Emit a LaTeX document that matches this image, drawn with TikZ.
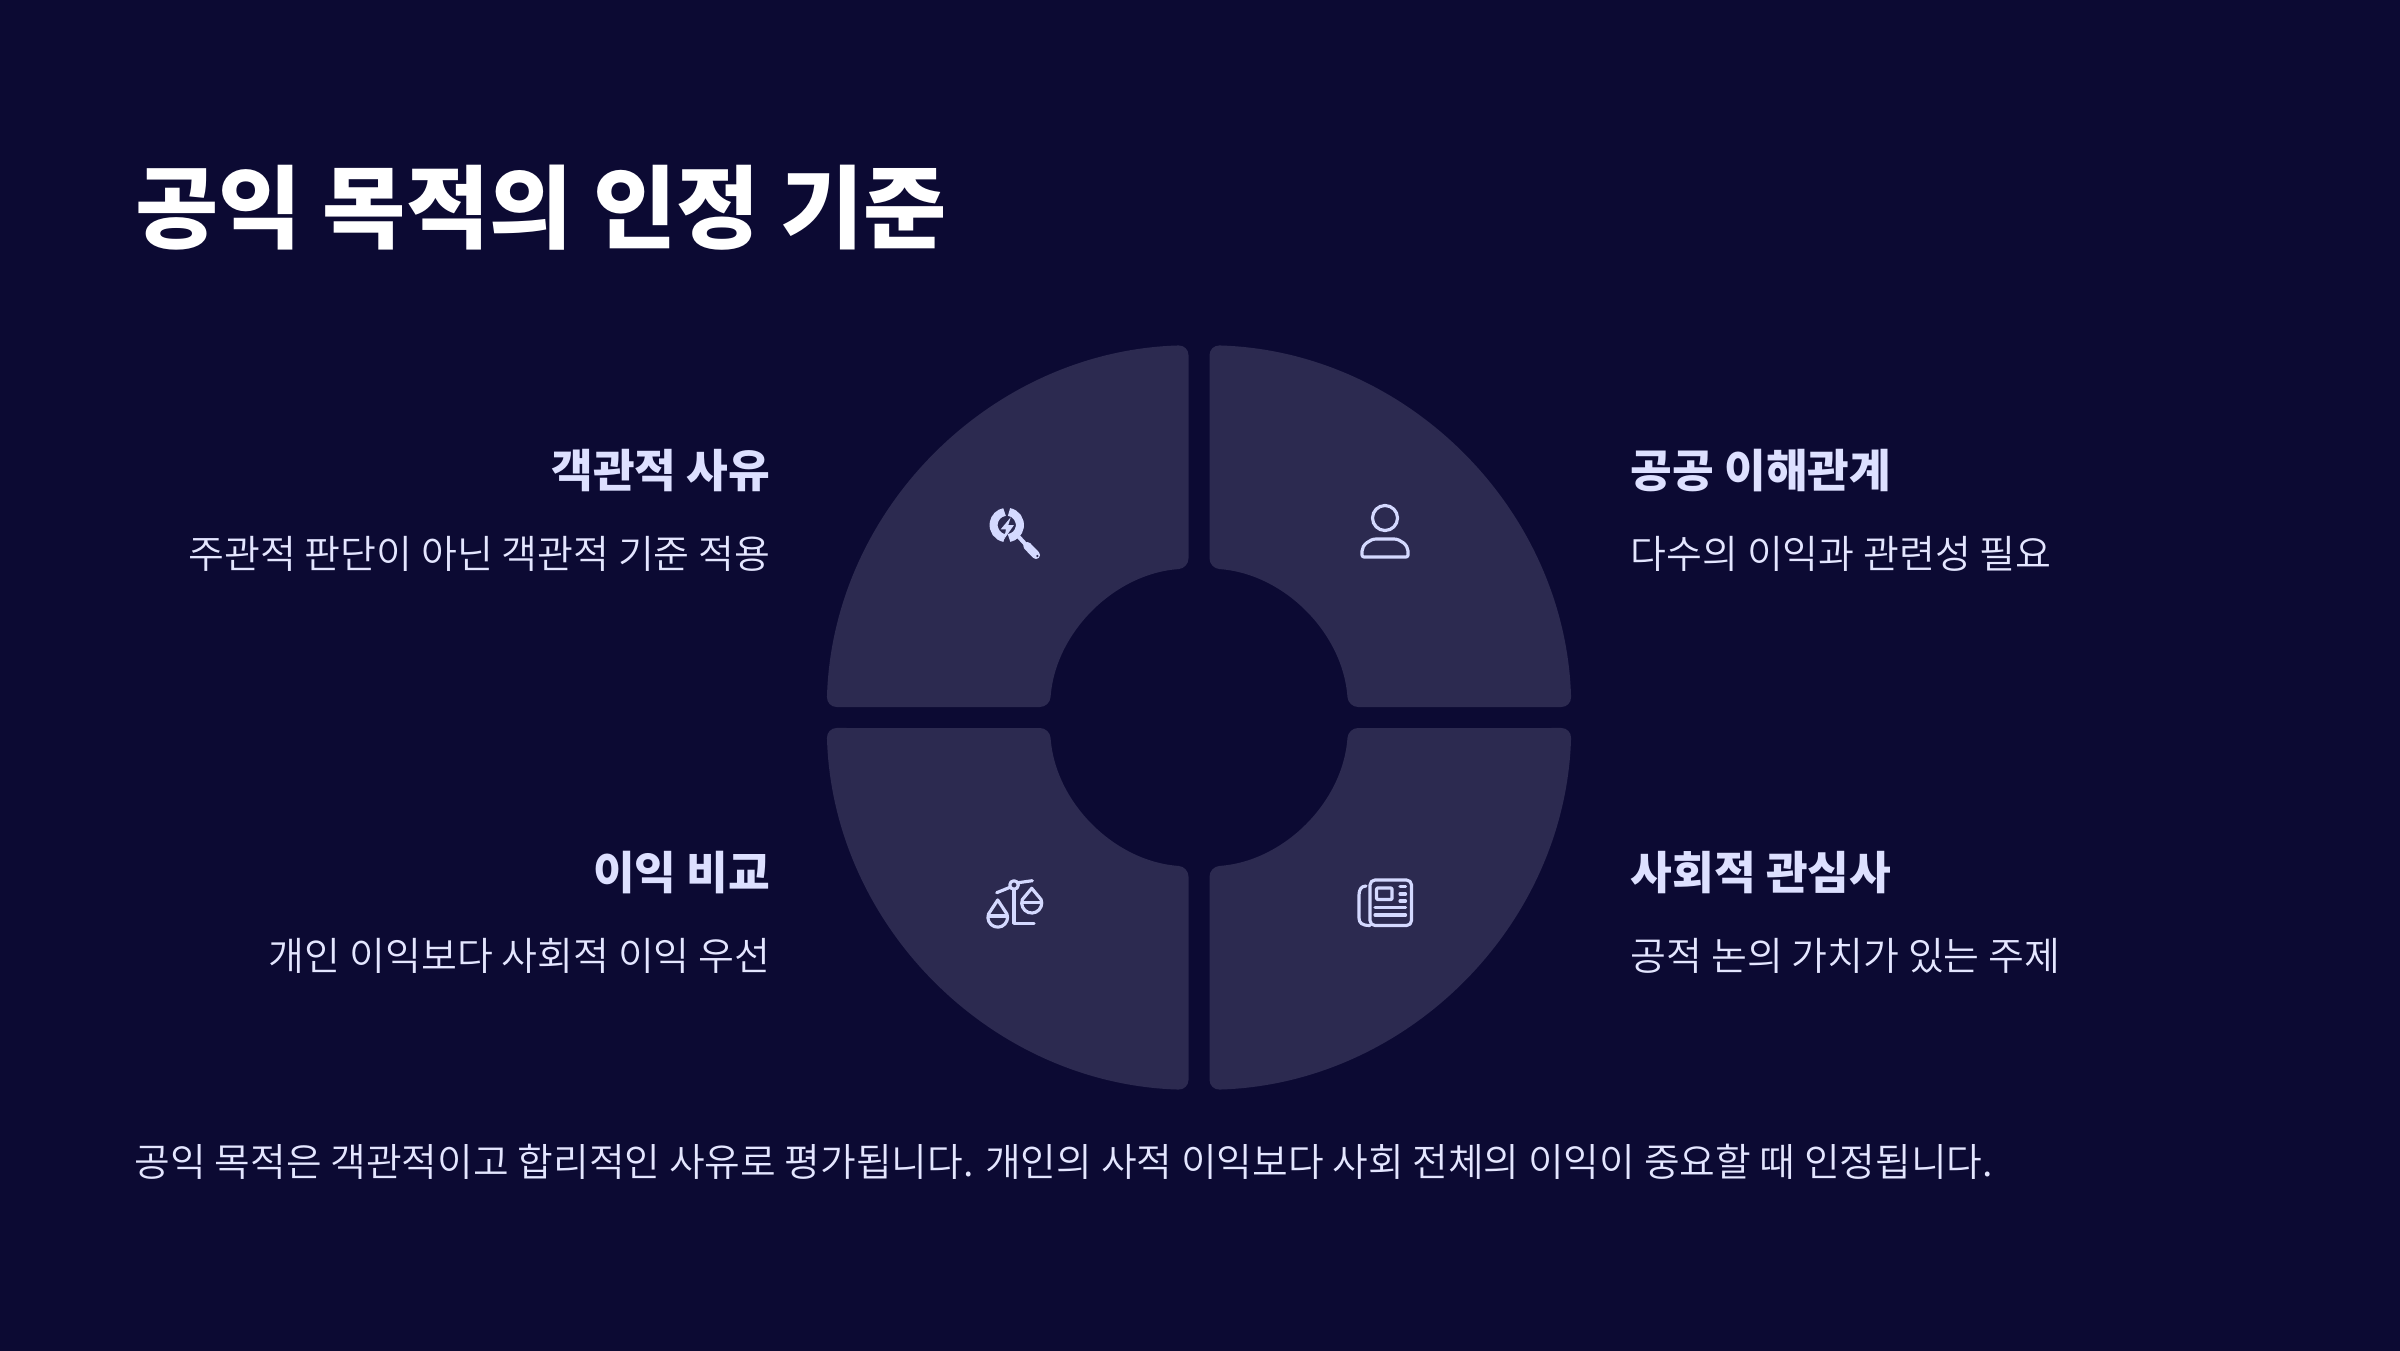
\documentclass[tikz,border=0pt]{standalone}
\usepackage{fontspec}
\setmainfont{Noto Sans CJK KR}
\newfontfamily\lightfont{Noto Sans CJK KR DemiLight}
\definecolor{bgnavy}{HTML}{0C0A33}
\definecolor{segfill}{HTML}{2C2A50}
\definecolor{headtext}{HTML}{DDE0FF}
\definecolor{bodytext}{HTML}{E4E6FF}
\definecolor{iconline}{HTML}{D4D9FF}
\tikzset{
  titletext/.style={text=white, font=\fontsize{25.75}{30}\selectfont\bfseries, anchor=west, inner sep=0pt},
  headleft/.style={text=headtext, font=\fontsize{12.9}{16}\selectfont\bfseries, anchor=east, inner sep=0pt},
  headright/.style={text=headtext, font=\fontsize{12.9}{16}\selectfont\bfseries, anchor=west, inner sep=0pt},
  bodyleft/.style={text=bodytext, font=\fontsize{11.1}{14}\lightfont\selectfont, anchor=east, inner sep=0pt},
  bodyright/.style={text=bodytext, font=\fontsize{11.1}{14}\lightfont\selectfont, anchor=west, inner sep=0pt},
  footnotetext/.style={text=bodytext, font=\fontsize{11.04}{14}\lightfont\selectfont, anchor=west, inner sep=0pt},
  iconstroke/.style={draw=iconline, line width=0.9pt, line cap=round, line join=round},
}
\begin{document}
\begin{tikzpicture}
  \useasboundingbox (0,0) rectangle (24,13.5);
  \fill[bgnavy] (-0.1,-0.1) rectangle (24.1,13.6);

  % Quadrants
  \coordinate (C) at (11.99,6.325);
  \foreach \sx/\sy in {1/1,-1/1,-1/-1,1/-1}{
    \begin{scope}[shift={(C)}, xscale=\sx, yscale=\sy]
      \fill[segfill, rounded corners=0.1cm]
        (88.385:3.725) arc (88.385:1.615:3.725) -- (4.03:1.495) arc (4.03:85.97:1.495) -- cycle;
    \end{scope}
  }

  % Texts
  \node[titletext] (title) at (1.35,11.42) {공익 목적의 인정 기준};
  \node[headleft] (headA) at (7.71,8.79) {객관적 사유};
  \node[bodyleft] (bodyA) at (7.71,7.96) {주관적 판단이 아닌 객관적 기준 적용};
  \node[headright] (headB) at (16.3,8.79) {공공 이해관계};
  \node[bodyright] (bodyB) at (16.3,7.96) {다수의 이익과 관련성 필요};
  \node[headleft] (headC) at (7.71,4.77) {이익 비교};
  \node[bodyleft] (bodyC) at (7.71,3.94) {개인 이익보다 사회적 이익 우선};
  \node[headright] (headD) at (16.3,4.77) {사회적 관심사};
  \node[bodyright] (bodyD) at (16.3,3.94) {공적 논의 가치가 있는 주제};
  \node[footnotetext] (foot) at (1.34,1.885) {공익 목적은 객관적이고 합리적인 사유로 평가됩니다. 개인의 사적 이익보다 사회 전체의 이익이 중요할 때 인정됩니다.};

  % Person icon
  \draw[iconstroke] (13.85,8.32) circle (0.125);
  \draw[iconstroke, rounded corners=0.02cm] (13.62,7.93) -- (14.08,7.93) -- (14.08,7.97)
    .. controls (14.08,8.05) and (14.0,8.11) .. (13.92,8.11) -- (13.78,8.11)
    .. controls (13.7,8.11) and (13.62,8.05) .. (13.62,7.97) -- cycle;

  % Magnifier icon
  \draw[iconline, line width=2.3pt] (10.045,8.12) arc (-100:-260:0.132);
  \draw[iconline, line width=2.3pt] (10.09,8.38) arc (80:-80:0.132);
  \fill[iconline] (10.107,8.327) -- (10.007,8.207) -- (10.06,8.207) -- (10.04,8.107) -- (10.14,8.25) -- (10.083,8.25) -- cycle;
  \draw[iconline, line width=1.15pt] (10.17,8.15) -- (10.28,8.03);
  \draw[iconline, line width=2.3pt, line cap=round] (10.273,8.04) -- (10.36,7.95);
  \fill[segfill] (10.373,7.94) circle (0.012);

  % Scales icon
  \draw[iconstroke] (10.14,4.65) circle (0.043);
  \draw[iconstroke] (9.967,4.573) -- (10.10,4.627);
  \draw[iconstroke] (10.183,4.673) -- (10.323,4.693);
  \draw[iconstroke] (10.14,4.607) -- (10.14,4.267) -- (10.34,4.267);
  \draw[iconstroke] (9.977,4.50) -- (9.885,4.36) arc (160:380:0.098) -- cycle;
  \draw[iconstroke] (9.885,4.34) -- (10.069,4.34);
  \draw[iconstroke] (10.317,4.617) -- (10.223,4.504) arc (160:380:0.1) -- cycle;
  \draw[iconstroke] (10.223,4.473) -- (10.411,4.473);

  % Newspaper icon
  \draw[iconstroke, rounded corners=0.05cm] (13.70,4.245) rectangle (14.115,4.70);
  \draw[iconstroke] (13.66,4.64) .. controls (13.61,4.64) and (13.59,4.60) .. (13.59,4.55) -- (13.59,4.32)
    .. controls (13.59,4.27) and (13.62,4.245) .. (13.70,4.245);
  \draw[iconstroke, rounded corners=0.01cm] (13.765,4.505) rectangle (13.92,4.62);
  \foreach \ly in {4.633,4.56,4.49}{
    \draw[iconstroke] (14.0,\ly) -- (14.055,\ly);
  }
  \foreach \ly in {4.423,4.35}{
    \draw[iconstroke] (13.75,\ly) -- (14.055,\ly);
  }
\end{tikzpicture}
\end{document}
